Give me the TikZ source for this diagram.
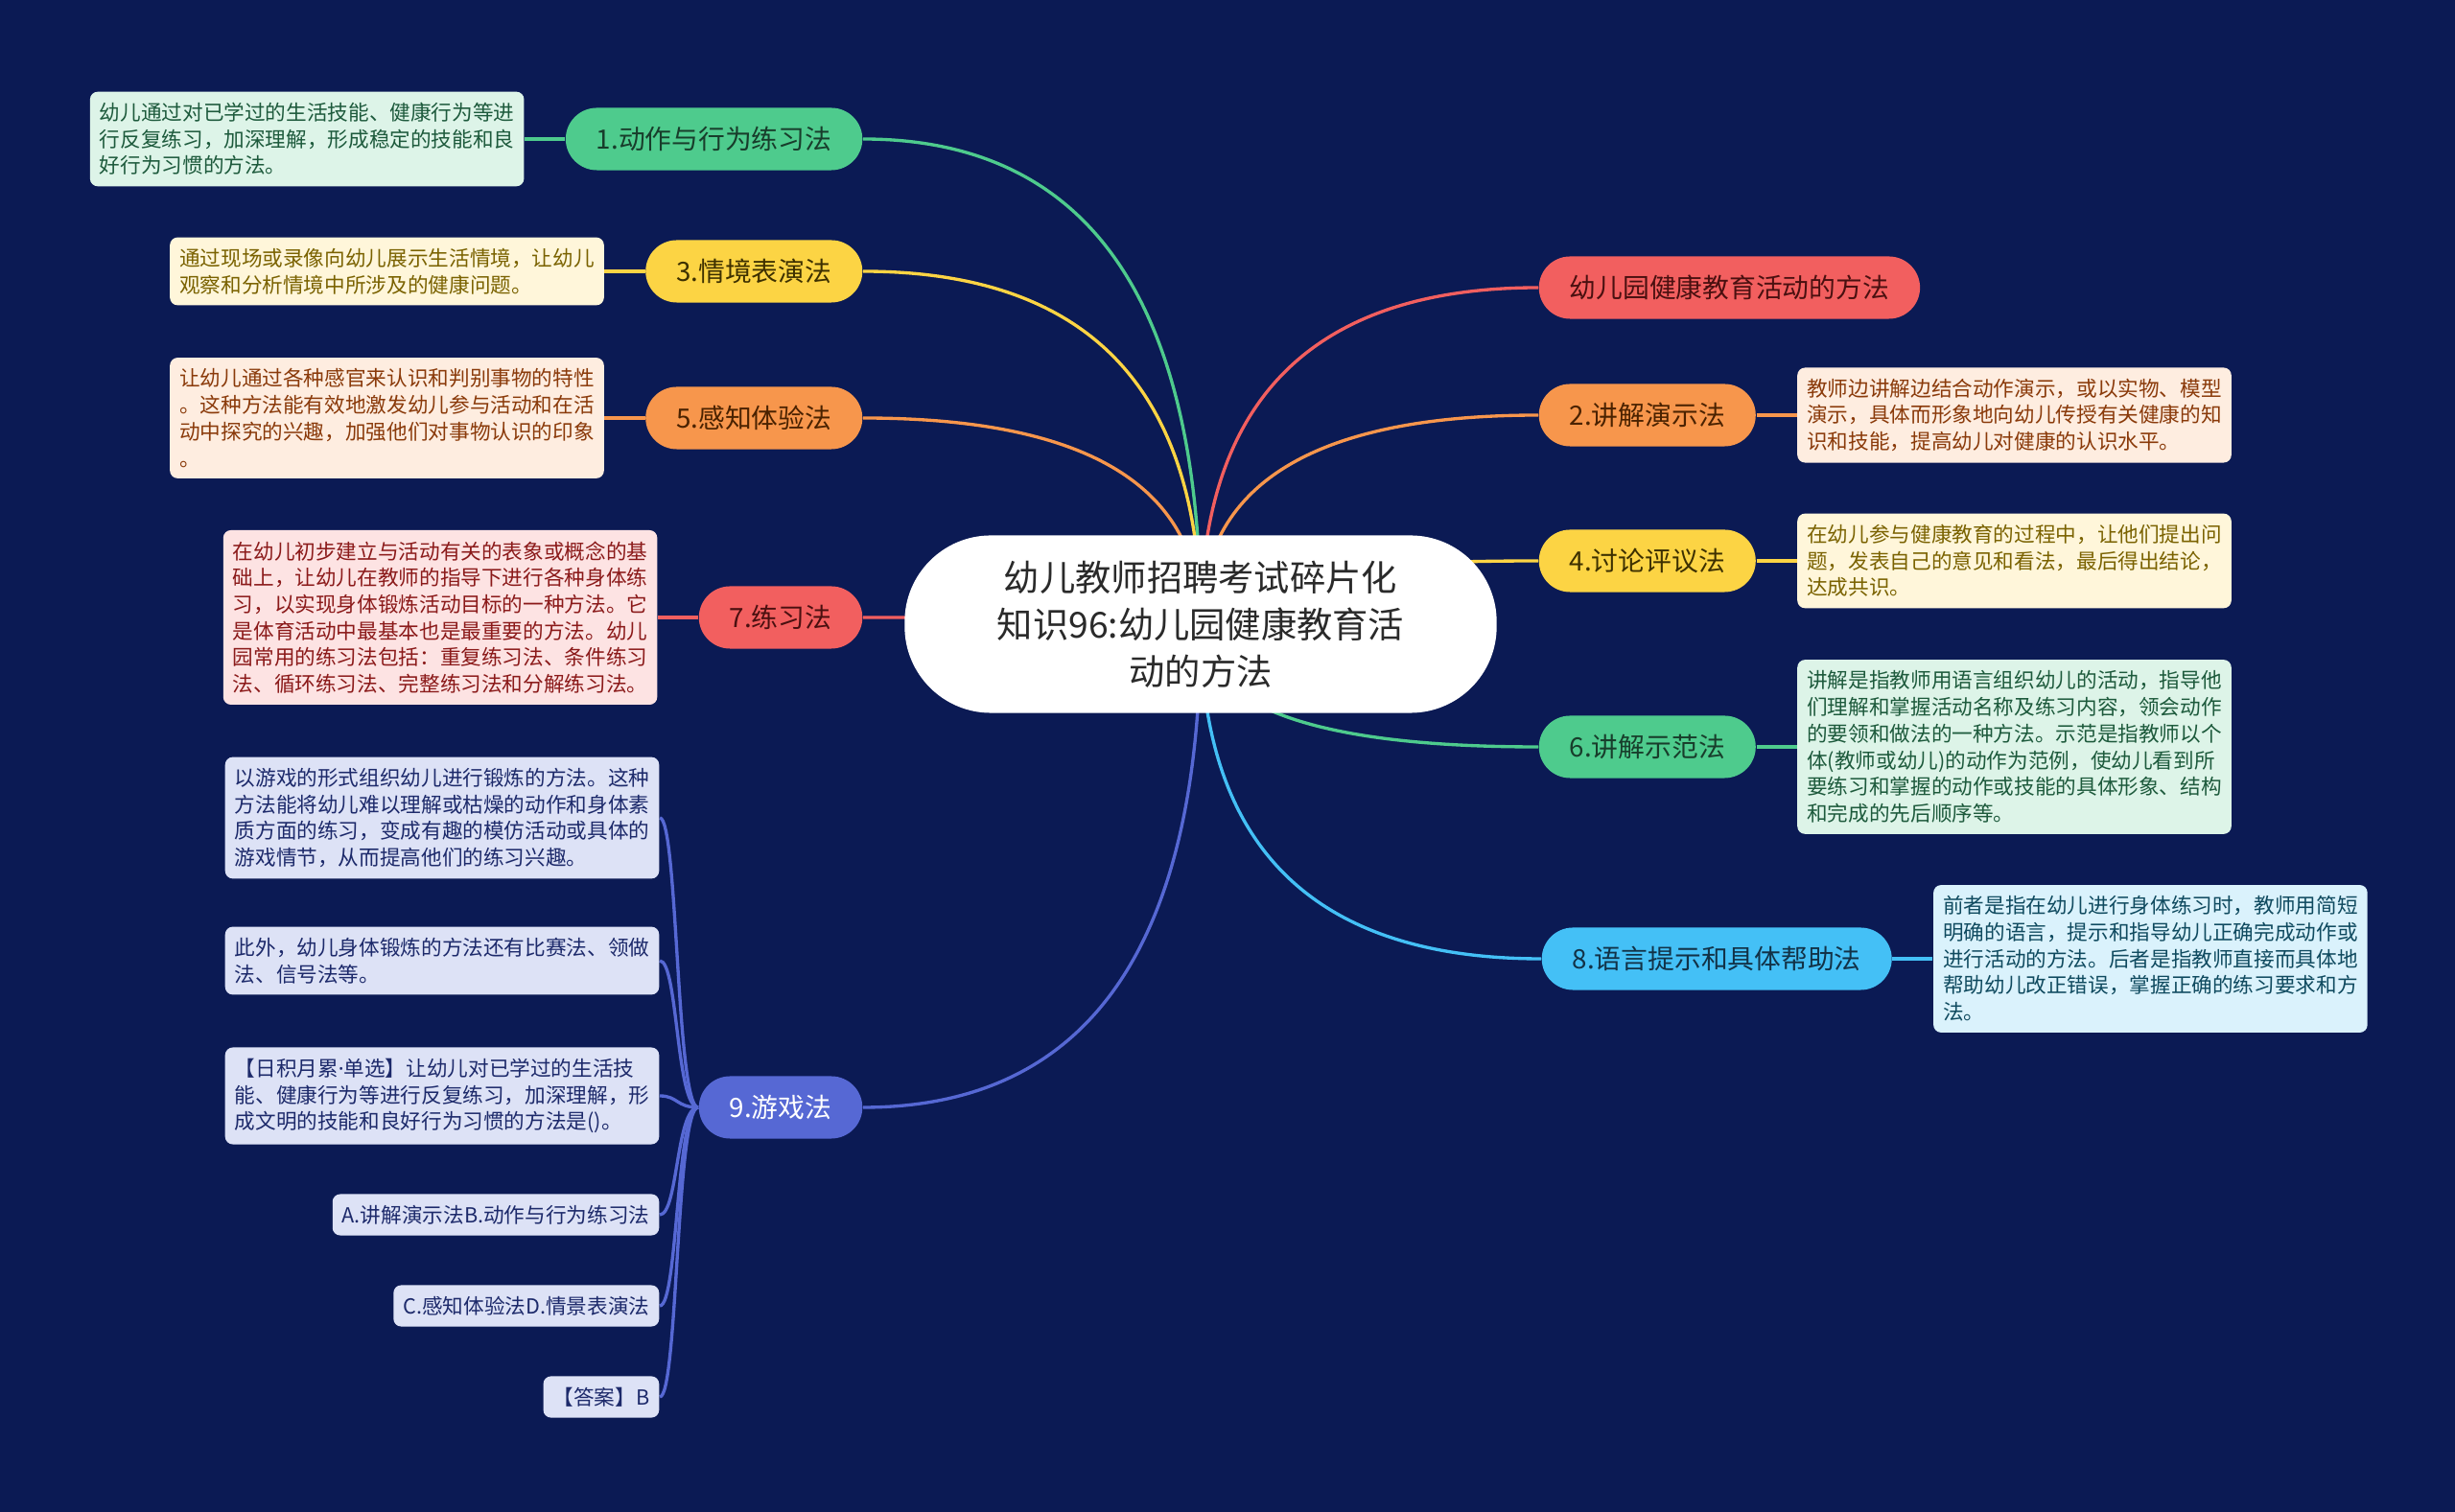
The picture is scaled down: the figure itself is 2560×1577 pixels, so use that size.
\documentclass[tikz,border=0pt]{standalone}
\usepackage{fontspec}
\usepackage{tikz}
\usetikzlibrary{positioning,backgrounds,calc}
\newfontfamily\cjk{Noto Sans CJK SC}
\newfontfamily\latinfont{Noto Sans}

\definecolor{bgcol}{HTML}{0B1A54}
\definecolor{titlecol}{HTML}{2A2A2A}
% branch fills and branch text
\definecolor{greencol}{HTML}{4ECB8D}
\definecolor{greentxt}{HTML}{183D2B}
\definecolor{yellowcol}{HTML}{FCD444}
\definecolor{yellowtxt}{HTML}{3D3000}
\definecolor{orangecol}{HTML}{F7964C}
\definecolor{orangetxt}{HTML}{4A2200}
\definecolor{redcol}{HTML}{F25F5F}
\definecolor{redtxt}{HTML}{4A1010}
\definecolor{cyancol}{HTML}{44C0F6}
\definecolor{cyantxt}{HTML}{123247}
\definecolor{bluecol}{HTML}{5668D4}
% leaf fills and leaf text
\definecolor{greenleafcol}{HTML}{DDF4E8}
\definecolor{greenleaftxt}{HTML}{1D5A3C}
\definecolor{yellowleafcol}{HTML}{FFF6DA}
\definecolor{yellowleaftxt}{HTML}{7A6200}
\definecolor{orangeleafcol}{HTML}{FEEDE0}
\definecolor{orangeleaftxt}{HTML}{8A3A0A}
\definecolor{redleafcol}{HTML}{FDE3E3}
\definecolor{redleaftxt}{HTML}{8B1A1A}
\definecolor{cyanleafcol}{HTML}{DAF2FC}
\definecolor{cyanleaftxt}{HTML}{0F4A5F}
\definecolor{blueleafcol}{HTML}{DDE2F6}
\definecolor{blueleaftxt}{HTML}{1D2A6B}

\tikzset{
  every node/.style={font=\cjk},
  topic/.style={fill=white, text=titlecol, rounded corners=0.9cm,
    minimum width=6.17cm, minimum height=1.85cm, align=center,
    font=\cjk\fontsize{10.6}{13.9}\selectfont},
  branch/.style={rounded corners=0.325cm, minimum height=0.65cm,
    inner xsep=0.32cm, inner ysep=0pt,
    font=\cjk\fontsize{7.9}{9.5}\selectfont},
  leaf/.style={rounded corners=0.08cm, align=left,
    inner xsep=0.1cm, inner ysep=0.115cm,
    font=\cjk\fontsize{6.15}{7.88}\selectfont},
  greenbranch/.style={branch, fill=greencol, text=greentxt},
  yellowbranch/.style={branch, fill=yellowcol, text=yellowtxt},
  orangebranch/.style={branch, fill=orangecol, text=orangetxt},
  redbranch/.style={branch, fill=redcol, text=redtxt},
  cyanbranch/.style={branch, fill=cyancol, text=cyantxt},
  bluebranch/.style={branch, fill=bluecol, text=white},
  greenleaf/.style={leaf, fill=greenleafcol, text=greenleaftxt},
  yellowleaf/.style={leaf, fill=yellowleafcol, text=yellowleaftxt},
  orangeleaf/.style={leaf, fill=orangeleafcol, text=orangeleaftxt},
  redleaf/.style={leaf, fill=redleafcol, text=redleaftxt},
  cyanleaf/.style={leaf, fill=cyanleafcol, text=cyanleaftxt},
  blueleaf/.style={leaf, fill=blueleafcol, text=blueleaftxt},
  link/.style={line width=0.95pt},
  branchcurve/.style={to path={.. controls
      ($(\tikztostart)!0.667!(\tikztostart |- \tikztotarget)$) and
      ($(\tikztotarget)!0.667!(\tikztostart |- \tikztotarget)$) .. (\tikztotarget)}},
  leafcurve/.style={to path={.. controls +(-23,0) and +(19,0) .. (\tikztotarget)}},
}

\begin{document}
\begin{tikzpicture}[x=0.01cm, y=-0.01cm]

  % Background.
  \begin{scope}[on background layer]
    \fill[bgcol] (0,0) rectangle (2560,1577);
  \end{scope}

  % Central topic.
  \node[topic] (ctr) at (1252,651)
    {幼儿教师招聘考试碎片化\\知识96:幼儿园健康教育活\\动的方法};

  % Left branches.
  \node[greenbranch, anchor=east] (b1) at (900,145) {1.动作与行为练习法};
  \node[yellowbranch, anchor=east] (b3) at (900,283) {3.情境表演法};
  \node[orangebranch, anchor=east] (b5) at (900,436) {5.感知体验法};
  \node[redbranch, anchor=east] (b7) at (900,644) {7.练习法};
  \node[bluebranch, anchor=east] (b9) at (900,1155) {9.游戏法};

  % Right branches.
  \node[redbranch, anchor=west] (b0) at (1604,300) {幼儿园健康教育活动的方法};
  \node[orangebranch, anchor=west] (b2) at (1604,433) {2.讲解演示法};
  \node[yellowbranch, anchor=west] (b4) at (1604,585) {4.讨论评议法};
  \node[greenbranch, anchor=west] (b6) at (1604,779) {6.讲解示范法};
  \node[cyanbranch, anchor=west] (b8) at (1607,1000) {8.语言提示和具体帮助法};

  % Left leaves.
  \node[greenleaf, left=0.42cm of b1] (l1)
    {幼儿通过对已学过的生活技能、健康行为等进\\行反复练习，加深理解，形成稳定的技能和良\\好行为习惯的方法。};
  \node[yellowleaf, left=0.42cm of b3] (l3)
    {通过现场或录像向幼儿展示生活情境，让幼儿\\观察和分析情境中所涉及的健康问题。};
  \node[orangeleaf, left=0.42cm of b5] (l5)
    {让幼儿通过各种感官来认识和判别事物的特性\\。这种方法能有效地激发幼儿参与活动和在活\\动中探究的兴趣，加强他们对事物认识的印象\\。};
  \node[redleaf, left=0.42cm of b7] (l7)
    {在幼儿初步建立与活动有关的表象或概念的基\\础上，让幼儿在教师的指导下进行各种身体练\\习，以实现身体锻炼活动目标的一种方法。它\\是体育活动中最基本也是最重要的方法。幼儿\\园常用的练习法包括：重复练习法、条件练习\\法、循环练习法、完整练习法和分解练习法。};

  % Leaves of the game branch.
  \node[blueleaf, anchor=east] (g1) at (688,853)
    {以游戏的形式组织幼儿进行锻炼的方法。这种\\方法能将幼儿难以理解或枯燥的动作和身体素\\质方面的练习，变成有趣的模仿活动或具体的\\游戏情节，从而提高他们的练习兴趣。};
  \node[blueleaf, anchor=east] (g2) at (688,1002)
    {此外，幼儿身体锻炼的方法还有比赛法、领做\\法、信号法等。};
  \node[blueleaf, anchor=east] (g3) at (688,1143)
    {【日积月累{\latinfont ·}单选】让幼儿对已学过的生活技\\能、健康行为等进行反复练习，加深理解，形\\成文明的技能和良好行为习惯的方法是()。};
  \node[blueleaf, anchor=east] (g4) at (688,1267) {A.讲解演示法B.动作与行为练习法};
  \node[blueleaf, anchor=east] (g5) at (688,1362) {C.感知体验法D.情景表演法};
  \node[blueleaf, anchor=east] (g6) at (688,1457) {【答案】B};

  % Right leaves.
  \node[orangeleaf, right=0.42cm of b2] (l2)
    {教师边讲解边结合动作演示，或以实物、模型\\演示，具体而形象地向幼儿传授有关健康的知\\识和技能，提高幼儿对健康的认识水平。};
  \node[yellowleaf, right=0.42cm of b4] (l4)
    {在幼儿参与健康教育的过程中，让他们提出问\\题，发表自己的意见和看法，最后得出结论，\\达成共识。};
  \node[greenleaf, right=0.42cm of b6] (l6)
    {讲解是指教师用语言组织幼儿的活动，指导他\\们理解和掌握活动名称及练习内容，领会动作\\的要领和做法的一种方法。示范是指教师以个\\体(教师或幼儿)的动作为范例，使幼儿看到所\\要练习和掌握的动作或技能的具体形象、结构\\和完成的先后顺序等。};
  \node[cyanleaf, right=0.42cm of b8] (l8)
    {前者是指在幼儿进行身体练习时，教师用简短\\明确的语言，提示和指导幼儿正确完成动作或\\进行活动的方法。后者是指教师直接而具体地\\帮助幼儿改正错误，掌握正确的练习要求和方\\法。};

  % Connectors, behind the nodes.
  \begin{scope}[on background layer]
    \draw[link, greencol] (ctr.center) to[branchcurve] (b1.east);
    \draw[link, yellowcol] (ctr.center) to[branchcurve] (b3.east);
    \draw[link, orangecol] (ctr.center) to[branchcurve] (b5.east);
    \draw[link, redcol] (ctr.center) to[branchcurve] (b7.east);
    \draw[link, bluecol] (ctr.center) to[branchcurve] (b9.east);
    \draw[link, redcol] (ctr.center) to[branchcurve] (b0.west);
    \draw[link, orangecol] (ctr.center) to[branchcurve] (b2.west);
    \draw[link, yellowcol] (ctr.center) to[branchcurve] (b4.west);
    \draw[link, greencol] (ctr.center) to[branchcurve] (b6.west);
    \draw[link, cyancol] (ctr.center) to[branchcurve] (b8.west);

    \draw[link, greencol] (b1.west) -- (l1.east);
    \draw[link, yellowcol] (b3.west) -- (l3.east);
    \draw[link, orangecol] (b5.west) -- (l5.east);
    \draw[link, redcol] (b7.west) -- (l7.east);
    \draw[link, orangecol] (b2.east) -- (l2.west);
    \draw[link, yellowcol] (b4.east) -- (l4.west);
    \draw[link, greencol] (b6.east) -- (l6.west);
    \draw[link, cyancol] (b8.east) -- (l8.west);

    \foreach \g in {g1,g2,g3,g4,g5,g6}
      \draw[link, bluecol] (b9.west) to[leafcurve] (\g.east);
  \end{scope}

\end{tikzpicture}
\end{document}
